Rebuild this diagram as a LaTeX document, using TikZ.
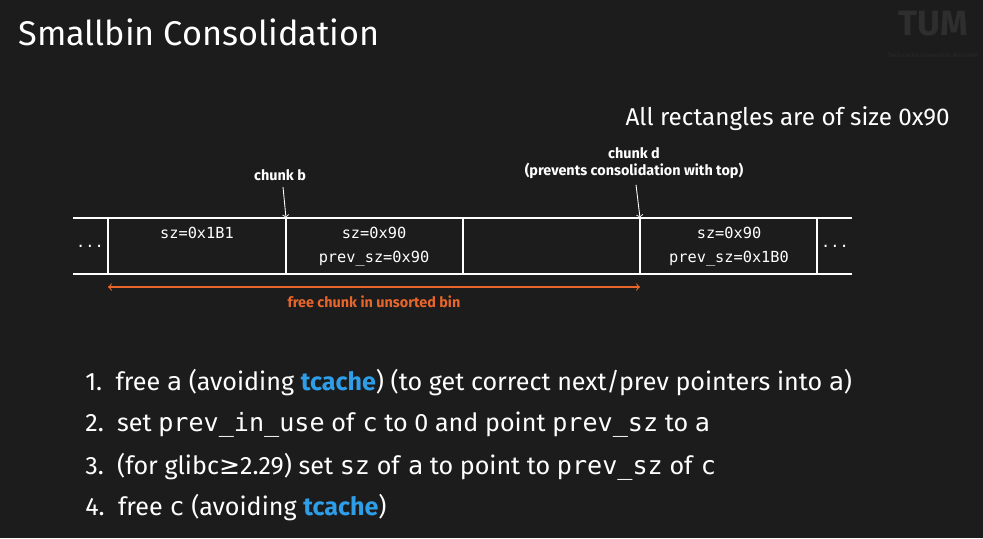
\documentclass[tikz,border=0pt]{standalone}
\usepackage{fontspec}
\setmainfont{Fira Sans}
\setmonofont{DejaVu Sans Mono}
\newfontfamily\symfont{DejaVu Sans}
\usetikzlibrary{positioning}
\definecolor{bg}{HTML}{1C1C1C}
\definecolor{tumblue}{HTML}{2E9EE8}
\definecolor{freeorange}{HTML}{E8662C}
\newcommand{\tc}{\textcolor{tumblue}{\textbf{tcache}}}

\begin{document}
\begin{tikzpicture}[
  x=0.02cm, y=-0.02cm,
  cellline/.style={draw=white, line width=0.6pt},
  celltext/.style={font=\ttfamily\fontsize{8.7}{10}\selectfont, text=white},
  lbl/.style={font=\bfseries\fontsize{8.2}{9.5}\selectfont, text=white, align=center},
  ptr/.style={->, white, line width=0.5pt},
  item/.style={anchor=west, text=white, font=\fontsize{14.3}{16}\selectfont},
  every node/.style={inner sep=0pt}
]
\fill[bg] (0,0) rectangle (983,538);
\useasboundingbox (0,0) rectangle (983,538);

% ====== TITLE ======
\node[anchor=west, text=white, font=\fontsize{19.5}{24}\selectfont] (title) at (18,32) {Smallbin Consolidation};
\node[text=white!8!bg, font=\bfseries\fontsize{20}{20}\selectfont] (logo) at (933,24) {TUM};
\node[text=white!6!bg, font=\fontsize{3.5}{4}\selectfont] (logosub) at (933,55) {Technische Universität München};

\node[anchor=east, text=white, font=\fontsize{13.8}{16}\selectfont] (note) at (950,119) {All rectangles are of size 0x90};

% ====== MEMORY ROW ======
\coordinate (rowL) at (73,218);
\coordinate (rowR) at (852,218);
\coordinate (rowLb) at (73,274);
\coordinate (rowRb) at (852,274);
\draw[cellline] (rowL) -- (rowR);
\draw[cellline] (rowLb) -- (rowRb);
\foreach \x/\n in {108/a,286/b,463/c,640/d,817/e}{
  \coordinate (top\n) at (\x,218);
  \draw[cellline] (\x,218) -- (\x,274);
}

\node[celltext] (dotsL) at (90,246) {...};
\node[celltext] (dotsR) at (835,246) {...};
\node[celltext] (asz) at (197,233) {sz=0x1B1};
\node[celltext] (bsz) at (374,233) {sz=0x90};
\node[celltext] (bprev) at (374,259) {prev\_sz=0x90};
\node[celltext] (dsz) at (729,233) {sz=0x90};
\node[celltext] (dprev) at (729,259) {prev\_sz=0x1B0};

% ====== POINTERS ======
\node[lbl] (chunkb) at (280,175) {chunk b};
\node[lbl] (chunkd) at (634,163) {chunk d\\(prevents consolidation with top)};
\draw[ptr] (chunkb.south) ++(3,6) -- (topb);
\draw[ptr] (chunkd.south) ++(2,6) -- (topd);

\draw[<->, freeorange, line width=0.6pt] (108,287) -- (640,287);
\node[lbl, text=freeorange] (freelbl) at (374,302) {free chunk in unsorted bin};

% ====== STEPS ======
\node[item] (s1) at (85,383) {1.\ \ free \texttt{a} (avoiding \tc) (to get correct next/prev pointers into \texttt{a})};
\node[item] (s2) at (85,425) {2.\ \ set \texttt{prev\_in\_use} of \texttt{c} to 0 and point \texttt{prev\_sz} to \texttt{a}};
\node[item] (s3) at (85,467) {3.\ \ (for glibc{\symfont ≥}2.29) set \texttt{sz} of \texttt{a} to point to \texttt{prev\_sz} of \texttt{c}};
\node[item] (s4) at (85,508) {4.\ \ free \texttt{c} (avoiding \tc)};
\end{tikzpicture}
\end{document}
